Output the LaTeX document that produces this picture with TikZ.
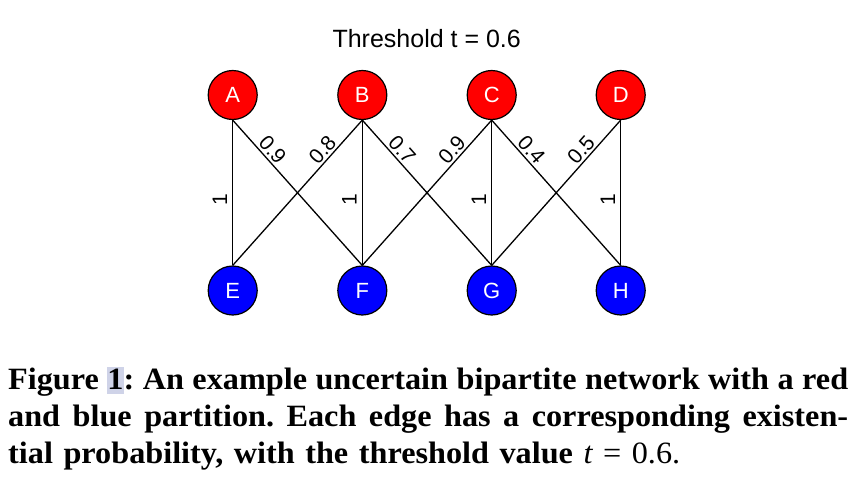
\documentclass[tikz,border=0pt]{standalone}
\usepackage{fontspec}
\setmainfont{Liberation Serif}[FakeStretch=1.04]
\setsansfont{Liberation Sans}
\usepackage{tikz}
\definecolor{linkbg}{HTML}{CFD3E8}
\frenchspacing
\tikzset{vertex/.style={circle, draw=black, line width=1.2pt, text=white, minimum size=49pt, inner sep=0pt, font=\sffamily\fontsize{22}{22}\selectfont},
red vertex/.style={vertex, fill=red},
blue vertex/.style={vertex, fill=blue},
edge/.style={line width=1.3pt},
weight/.style={sloped, above, inner sep=2pt, pos=0.25, font=\sffamily\fontsize{21}{21}\selectfont},
certain/.style={weight, pos=0.45, inner sep=5pt},
caption line/.style={anchor=base west, inner sep=0pt, font=\bfseries\fontsize{31}{37}\selectfont}}

\begin{document}
\begin{tikzpicture}[x=1pt, y=-1pt]
\useasboundingbox (0,0) rectangle (864,480);
\node[anchor=base, font=\sffamily\fontsize{25}{25}\selectfont] (title) at (426.7,47) {Threshold t = 0.6};
% red partition
\node[red vertex] (A) at (232.7,95) {A};
\node[red vertex] (B) at (362.3,95) {B};
\node[red vertex] (C) at (491.7,95) {C};
\node[red vertex] (D) at (620.7,95) {D};
% blue partition
\node[blue vertex] (E) at (232.7,290.5) {E};
\node[blue vertex] (F) at (362.3,290.5) {F};
\node[blue vertex] (G) at (491.7,290.5) {G};
\node[blue vertex] (H) at (620.7,290.5) {H};
% edges with existential probabilities
\draw[edge] (E.north) -- node[certain] {1} (A.south);
\draw[edge] (A.south) -- node[weight] {0.9} (F.north);
\draw[edge] (B.south) -- node[weight] {0.8} (E.north);
\draw[edge] (F.north) -- node[certain] {1} (B.south);
\draw[edge] (B.south) -- node[weight] {0.7} (G.north);
\draw[edge] (C.south) -- node[weight] {0.9} (F.north);
\draw[edge] (G.north) -- node[certain] {1} (C.south);
\draw[edge] (C.south) -- node[weight] {0.4} (H.north);
\draw[edge] (D.south) -- node[weight] {0.5} (G.north);
\draw[edge] (H.north) -- node[certain] {1} (D.south);
% caption
\node[caption line] (cap1) at (8,389) {\makebox[840pt][s]{Figure {\fboxsep=0pt\colorbox{linkbg}{\vrule height 22pt depth 5pt width 0pt 1}}: An example uncertain bipartite network with a red}};
\node[caption line] (cap2) at (8,426) {\makebox[840pt][s]{and blue partition. Each edge has a corresponding existen-}};
\node[caption line] (cap3) at (8,463) {\makebox[672pt][s]{tial probability, with the threshold value {\mdseries\itshape t} {\mdseries = 0.6.}}};
\end{tikzpicture}
\end{document}
